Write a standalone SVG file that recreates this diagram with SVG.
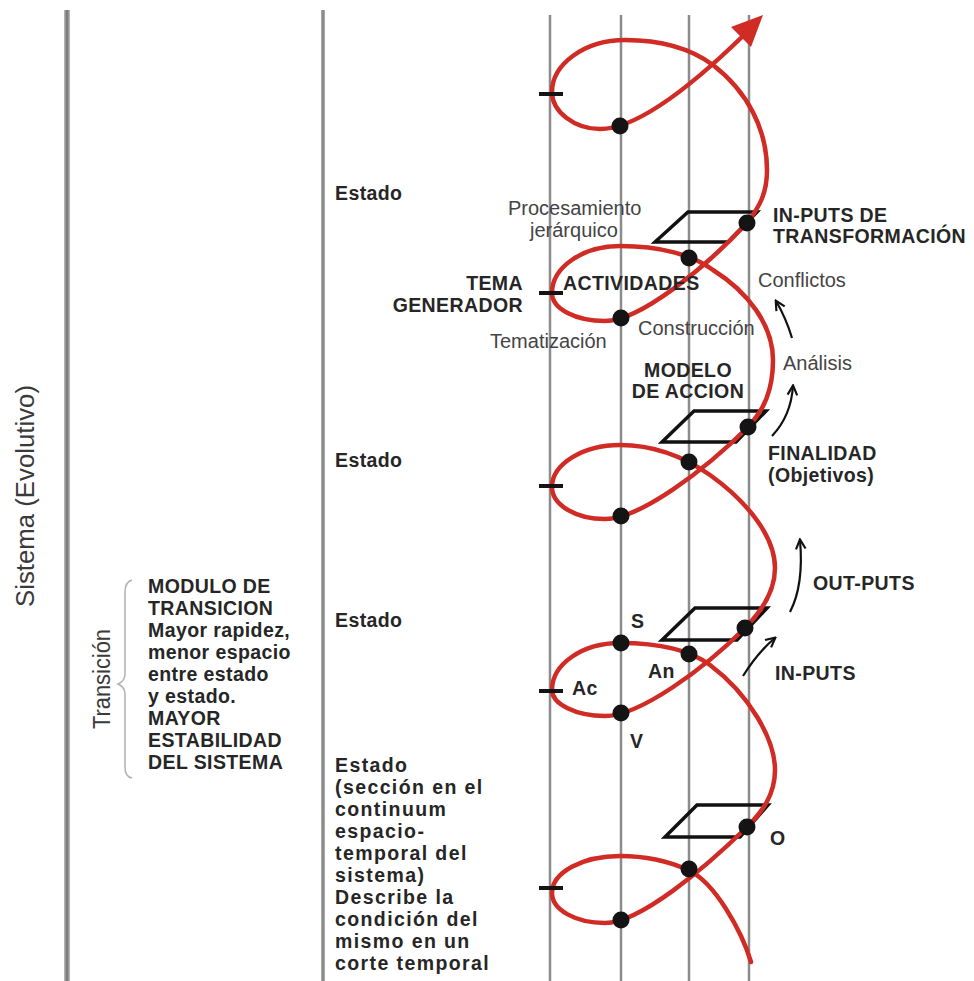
<svg xmlns="http://www.w3.org/2000/svg" width="974" height="981" viewBox="0 0 974 981">
<style>
.vl{stroke:#8c8c8c;stroke-width:2.5}
.vlo{stroke:#b3b3b3;stroke-width:6}
.vli{stroke:#7d7d7d;stroke-width:3}
.b{font-family:"Liberation Sans",Arial,sans-serif;font-weight:bold;font-size:19.5px;fill:#262626;letter-spacing:0.4px}
.bw{font-family:"Liberation Sans",Arial,sans-serif;font-weight:bold;font-size:19.5px;fill:#262626;letter-spacing:1.4px}
.r{font-family:"Liberation Sans",Arial,sans-serif;font-size:20px;fill:#444}
.rot{font-family:"Liberation Sans",Arial,sans-serif;fill:#3a3a3a}
.para{fill:none;stroke:#111;stroke-width:3.5;stroke-linejoin:miter}
.dot{fill:#141414}
.tick{stroke:#141414;stroke-width:4}
.spiral{fill:none;stroke:#d02b25;stroke-width:4.5;stroke-linecap:round}
.arr{fill:none;stroke:#111;stroke-width:2.2;marker-end:url(#ah)}
</style>
<defs>
<marker id="ah" viewBox="0 0 10 10" refX="8.5" refY="5" markerWidth="12" markerHeight="12" markerUnits="userSpaceOnUse" orient="auto">
<path d="M1,1 L9,5 L1,9" fill="none" stroke="#111" stroke-width="1.8"/>
</marker>
</defs>
<rect width="974" height="981" fill="#fff"/>

<g id="axes">
<line class="vlo" x1="67" y1="10" x2="67" y2="981"/>
<line class="vli" x1="67" y1="10" x2="67" y2="981"/>
<line class="vl" x1="323" y1="10" x2="323" y2="981" style="stroke-width:3.5"/>
<line class="vl" x1="550" y1="15" x2="550" y2="981"/>
<line class="vl" x1="621" y1="15" x2="621" y2="981"/>
<line class="vl" x1="689" y1="15" x2="689" y2="981"/>
<line class="vl" x1="749" y1="15" x2="749" y2="981"/>
</g>

<g id="planes">
<polygon class="para" points="655,242 688,212 757,212 728,242"/>
<polygon class="para" points="662,442 694,411 766,411 736,442"/>
<polygon class="para" points="662,640 695,608 767,608 737,640"/>
<polygon class="para" points="665,837 697,805 768,805 740,837"/>
</g>

<g id="connectors">
<path class="spiral" d="M 751 962 C 742 932 715 882 688 870 C 666 860 643 856 620 856 C 582.5 856 552 872.6 552 893 C 552 910 576 923 605 923 C 640 923 705 868 747 827 C 762 812 775 795 775 770 C 775 740 750 695 710 665 C 690 650 660 643 620 643 C 582.5 643 552 664 552 690 C 552 704 576 716 605 716 C 640 716 705 668 745 628 C 760 613 775 593 775 568 C 775 535 745 500 710 475 C 690 461 660 445 620 445 C 583 445 552 464 552 487 C 552 505 576 519 605 519 C 640 519 705 470 748 427 C 764 410 773 390 773 360 C 773 325 748 292 713 270 C 693 255 660 246 620 246 C 583 246 552 267 552 293 C 552 309 576 321 605 321 C 640 321 705 268 747 223 C 760 206 767 193 767 170 C 767 130 748 92 713 65 C 690 48 660 40 625 40 C 585 40 552 64 552 92 C 552 112 575 129 600 129 C 640 129 700 78 745 34"/>
<polygon points="763,15 731,27 751,47" fill="#d02b25"/>
<path class="arr" d="M 792 338 Q 786 318 776 301"/>
<path class="arr" d="M 772 436 Q 791 416 793 386"/>
<path class="arr" d="M 790 612 Q 804 585 800 540"/>
<path class="arr" d="M 743 676 Q 758 652 775 638"/>
</g>

<g id="ticks">
<line class="tick" x1="539" y1="94" x2="563" y2="94"/>
<line class="tick" x1="539" y1="293" x2="563" y2="293"/>
<line class="tick" x1="539" y1="486" x2="563" y2="486"/>
<line class="tick" x1="539" y1="691" x2="563" y2="691"/>
<line class="tick" x1="539" y1="888" x2="563" y2="888"/>
</g>

<g id="dots">
<circle class="dot" cx="620" cy="126" r="8.5"/>
<circle class="dot" cx="747" cy="223" r="8.5"/>
<circle class="dot" cx="689" cy="258" r="8.5"/>
<circle class="dot" cx="621" cy="318" r="8.5"/>
<circle class="dot" cx="748" cy="427" r="8.5"/>
<circle class="dot" cx="689" cy="462" r="8.5"/>
<circle class="dot" cx="621" cy="516" r="8.5"/>
<circle class="dot" cx="745" cy="628" r="8.5"/>
<circle class="dot" cx="621" cy="643" r="8.5"/>
<circle class="dot" cx="689" cy="654" r="8.5"/>
<circle class="dot" cx="621" cy="713" r="8.5"/>
<circle class="dot" cx="747" cy="827" r="8.5"/>
<circle class="dot" cx="689" cy="869" r="8.5"/>
<circle class="dot" cx="621" cy="920" r="8.5"/>
</g>

<g id="sistema">
<text class="rot" font-size="26" text-anchor="middle" textLength="222" lengthAdjust="spacingAndGlyphs" transform="translate(34,496) rotate(-90)">Sistema (Evolutivo)</text>
</g>

<g id="transicion">
<text class="rot" font-size="23" text-anchor="middle" textLength="100" lengthAdjust="spacingAndGlyphs" transform="translate(110,679) rotate(-90)">Transición</text>
<path d="M 132 580 Q 125 582 125 592 L 125 674 Q 125 681 118 684 Q 125 687 125 694 L 125 767 Q 125 777 132 778" fill="none" stroke="#b5b5b5" stroke-width="1.6"/>
</g>

<g id="modulo">
<text class="b" x="148">
<tspan x="148" y="593">MODULO DE</tspan>
<tspan x="148" y="615">TRANSICION</tspan>
<tspan x="148" y="637">Mayor rapidez,</tspan>
<tspan x="148" y="659">menor espacio</tspan>
<tspan x="148" y="681">entre estado</tspan>
<tspan x="148" y="703">y estado.</tspan>
<tspan x="148" y="725">MAYOR</tspan>
<tspan x="148" y="747">ESTABILIDAD</tspan>
<tspan x="148" y="769">DEL SISTEMA</tspan>
</text>
</g>

<g id="estado1"><text class="b" x="335" y="200">Estado</text></g>
<g id="estado2"><text class="b" x="335" y="467">Estado</text></g>
<g id="estado3"><text class="b" x="335" y="627">Estado</text></g>
<g id="estado4">
<text class="bw">
<tspan x="335" y="772">Estado</tspan>
<tspan x="335" y="794">(sección en el</tspan>
<tspan x="335" y="816">continuum</tspan>
<tspan x="335" y="838">espacio-</tspan>
<tspan x="335" y="860">temporal del</tspan>
<tspan x="335" y="882">sistema)</tspan>
<tspan x="335" y="904">Describe la</tspan>
<tspan x="335" y="926">condición del</tspan>
<tspan x="335" y="948">mismo en un</tspan>
<tspan x="335" y="970">corte temporal</tspan>
</text>
</g>

<g id="procesamiento">
<text class="r" x="508" y="215">Procesamiento</text>
<text class="r" x="530" y="237">jerárquico</text>
</g>
<g id="tema"><text class="b" text-anchor="end"><tspan x="523" y="290">TEMA</tspan><tspan x="523" y="312">GENERADOR</tspan></text></g>
<g id="actividades"><text class="b" x="563" y="290">ACTIVIDADES</text></g>
<g id="tematizacion"><text class="r" x="490" y="348">Tematización</text></g>
<g id="construccion"><text class="r" x="638" y="335">Construcción</text></g>
<g id="modelo"><text class="b" text-anchor="middle"><tspan x="688" y="377">MODELO</tspan><tspan x="688" y="398">DE ACCION</tspan></text></g>
<g id="inputs-trans"><text class="b"><tspan x="773" y="222">IN-PUTS DE</tspan><tspan x="773" y="243">TRANSFORMACIÓN</tspan></text></g>
<g id="conflictos"><text class="r" x="758" y="287">Conflictos</text></g>
<g id="analisis"><text class="r" x="783" y="370">Análisis</text></g>
<g id="finalidad"><text class="b"><tspan x="768" y="460">FINALIDAD</tspan><tspan x="768" y="482">(Objetivos)</tspan></text></g>
<g id="outputs"><text class="b" x="813" y="590">OUT-PUTS</text></g>
<g id="inputs"><text class="b" x="775" y="680">IN-PUTS</text></g>
<g id="lbl-s"><text class="b" x="631" y="628">S</text></g>
<g id="lbl-an"><text class="b" x="648" y="678">An</text></g>
<g id="lbl-ac"><text class="b" x="572" y="695">Ac</text></g>
<g id="lbl-v"><text class="b" x="630" y="748">V</text></g>
<g id="lbl-o"><text class="b" x="770" y="845">O</text></g>
</svg>
